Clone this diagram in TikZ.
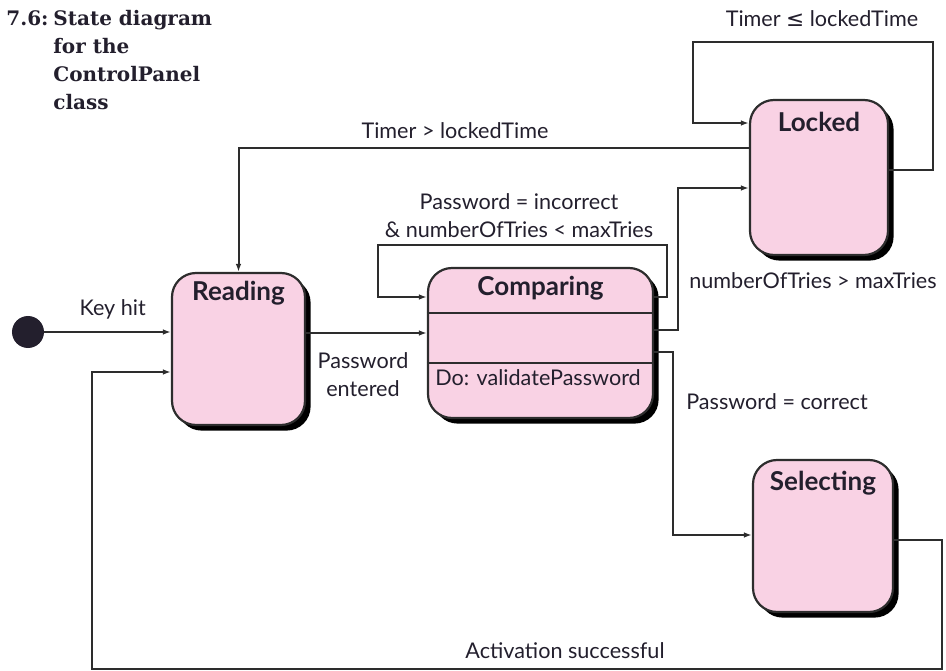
\documentclass[tikz,border=0pt]{standalone}
\usepackage{fontspec}
\setmainfont{Lato}
\newfontfamily\slabfont{DejaVu Serif}
\newfontfamily\symfont{DejaVu Sans}
\usetikzlibrary{positioning,arrows.meta,shadows}

\definecolor{statepink}{RGB}{249,210,228}
\definecolor{inkline}{RGB}{45,45,45}
\definecolor{inktext}{RGB}{35,31,45}

\tikzset{
  statebox/.style={draw=inkline, line width=1.1bp, fill=statepink, rounded corners=12bp,
    drop shadow={shadow xshift=2.8bp, shadow yshift=-2.8bp, fill=black, opacity=1}},
  statename/.style={font=\bfseries\fontsize{13bp}{15bp}\selectfont, text=inktext, inner sep=0pt},
  guard/.style={font=\fontsize{10.8bp}{14bp}\selectfont, text=inktext, inner sep=1bp},
  trans/.style={draw=inkline, line width=1bp, -{Latex[length=4bp,width=2.8bp]}},
  figtitle/.style={font=\slabfont\bfseries\fontsize{10bp}{14bp}\selectfont, text=inktext,
    inner sep=0pt, align=left}
}

\begin{document}
\begin{tikzpicture}[x=0.5bp, y=-0.5bp]
    \useasboundingbox (0,0) rectangle (946,671);
    \clip (0,0) rectangle (946,671);

    % Figure caption
    \node[figtitle, anchor=north east] (tag) at (49,10) {Fig 7.6:};
    \node[figtitle, anchor=north west] (caption) at (53,10) {State diagram\\for the\\ControlPanel\\class};

    % States
    \node[statebox, minimum width=66.5bp, minimum height=76bp] (rd) at (238.5,349) {};
    \node[statebox, minimum width=112.5bp, minimum height=75bp] (cmp) at (540.5,343) {};
    \node[statebox, minimum width=69bp, minimum height=77.5bp] (lk) at (819,177.5) {};
    \node[statebox, minimum width=70bp, minimum height=76bp] (sel) at (823,536) {};

    % State names
    \node[statename, below=4.5bp of rd.north] (rdname) {Reading};
    \node[statename, below=4.5bp of cmp.north] (cmpname) {Comparing};
    \node[statename, below=6.5bp of lk.north] (lkname) {Locked};
    \node[statename, below=6bp of sel.north] (selname) {Selecting};

    % -- Comparing compartments
    \draw[inkline, line width=1.1bp] (cmp.west |- 0,313) -- (cmp.east |- 0,313);
    \draw[inkline, line width=1.1bp] (cmp.west |- 0,363) -- (cmp.east |- 0,363);
    \node[guard, anchor=west] (cmpdo) at (433,378) {Do: validatePassword};

    % Initial state
    \node[circle, fill=inktext, minimum size=16bp, inner sep=0pt] (init) at (28,332) {};

    % Transitions
    \draw[trans] (init) -- (rd.west |- init)
        node[guard, midway, above=5bp, xshift=2.5bp] (keyhit) {Key hit};
    \draw[trans] (rd.east |- 0,333) -- (cmp.west |- 0,333);
    \node[guard, align=center] (entered) at (363,375) {Password\\entered};

    % -- Comparing loop
    \draw[trans] (cmp.east |- 0,297) -- (667,297) -- (667,245) -- (378,245) -- (378,297)
        -- (cmp.west |- 0,297);
    \node[guard, align=center] (incorrect) at (519,216) {Password = incorrect\\\& numberOfTries < maxTries};

    % -- Comparing to Locked
    \draw[trans] (cmp.east |- 0,330) -- (678,330) |- (lk.west |- 0,188);
    \node[guard] (toomany) at (813,281) {numberOfTries > maxTries};

    % -- Locked loop
    \draw[trans] (lk.east |- 0,170) -- (933,170) -- (933,42) -- (693,42) |- (lk.west |- 0,123);
    \node[guard] (waiting) at (822,19) {Timer {\symfont ≤} lockedTime};

    % -- Locked to Reading
    \draw[trans] (lk.west |- 0,148) -| (rd.north);
    \node[guard] (expired) at (455,131) {Timer > lockedTime};

    % -- Comparing to Selecting
    \draw[trans] (cmp.east |- 0,352) -- (673,352) |- (sel.west |- 0,535);
    \node[guard] (correct) at (777,402) {Password = correct};

    % -- Selecting back to Reading
    \draw[trans] (sel.east |- 0,540) -- (942,540) -- (942,669) -- (92,669) |- (rd.west |- 0,372);
    \node[guard] (activated) at (565,651) {Activation successful};
\end{tikzpicture}
\end{document}
